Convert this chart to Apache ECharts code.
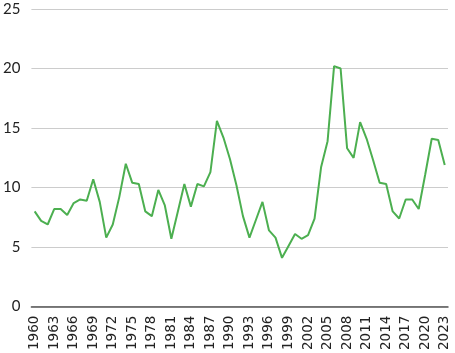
<!DOCTYPE html>
<html>
<head>
<meta charset="utf-8">
<script src="https://cdn.jsdelivr.net/npm/echarts@6/dist/echarts.min.js"></script>
<style>
html,body{margin:0;padding:0;background:#fff;}
#chart{width:455px;height:353px;}
</style>
</head>
<body>
<div id="chart"></div>
<script>
var years = [];
for (var y = 1960; y <= 2023; y++) years.push(String(y));
var values = [
  8.0, 7.2, 6.9, 8.2, 8.2, 7.7, 8.7, 9.0, 8.9, 10.7,
  8.8, 5.8, 6.9, 9.2, 12.0, 10.4, 10.3, 8.0, 7.6, 9.8,
  8.5, 5.7, 8.0, 10.3, 8.4, 10.3, 10.1, 11.3, 15.6, 14.2,
  12.4, 10.2, 7.6, 5.8, 7.3, 8.8, 6.4, 5.8, 4.1, 5.1,
  6.1, 5.7, 6.0, 7.4, 11.7, 13.9, 20.2, 20.0, 13.3, 12.5,
  15.5, 14.1, 12.3, 10.4, 10.3, 8.0, 7.4, 9.0, 9.0, 8.2,
  11.1, 14.1, 14.0, 11.9
];
var yTicks = [0, 5, 10, 15, 20, 25];

var chart = echarts.init(document.getElementById('chart'), null, {renderer: 'canvas'});
chart.setOption({
  animation: false,
  grid: {left: 31, right: 7, top: 9, bottom: 44, containLabel: false},
  xAxis: {
    type: 'category',
    data: years,
    boundaryGap: true,
    axisLine: {show: true, lineStyle: {color: '#555', width: 1.5}},
    axisTick: {show: false},
    axisLabel: {
      interval: 2,
      rotate: 90,
      margin: 9,
      color: '#222',
      fontFamily: 'DejaVu Sans',
      fontSize: 13.5
    },
    splitLine: {show: false}
  },
  yAxis: {
    type: 'value',
    min: yTicks[0],
    max: yTicks[yTicks.length - 1],
    interval: 5,
    axisLine: {show: false},
    axisTick: {show: false},
    axisLabel: {
      margin: 11,
      color: '#222',
      fontFamily: 'Lato',
      fontSize: 15
    },
    splitLine: {show: true, lineStyle: {color: '#cccccc', width: 1}}
  },
  series: [{
    type: 'line',
    data: values,
    symbol: 'none',
    lineStyle: {color: '#4caf50', width: 2},
    itemStyle: {color: '#4caf50'}
  }]
});
</script>
</body>
</html>
